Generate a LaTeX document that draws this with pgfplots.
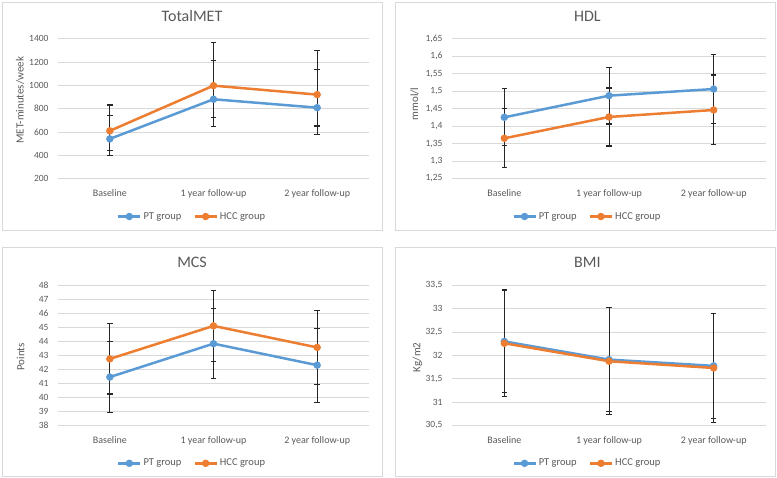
\documentclass[border=0pt]{standalone}
\usepackage{pgfplots}
\pgfplotsset{compat=1.18}
\usepackage{fontspec}
\setmainfont{Carlito}

\definecolor{ptblue}{HTML}{5B9BD5}
\definecolor{hccorange}{HTML}{ED7D31}
\definecolor{txtgray}{HTML}{595959}
\definecolor{gridgray}{HTML}{D9D9D9}

\pgfplotsset{
  panel/.style={
    scale only axis, height=139.8pt,
    xmin=-0.5, xmax=2.5,
    xtick={0,1,2},
    xticklabels={Baseline,1 year follow-up,2 year follow-up},
    axis line style={draw=none},
    major tick length=0pt,
    ymajorgrids, grid style={gridgray, line width=0.75pt},
    /pgf/number format/assume math mode=true,
    /pgf/number format/use comma,
    /pgf/number format/1000 sep={},
    yticklabel style={font=\fontsize{9.5}{11}\selectfont, text=txtgray, xshift=-6pt},
    xticklabel style={font=\fontsize{10}{12}\selectfont, text=txtgray, yshift=-8pt},
    title style={at={(axis description cs:0.431,1.12)}, anchor=center, yshift=0pt,
      font=\fontsize{16}{19}\selectfont, text=txtgray},
    ylabel style={anchor=center, font=\fontsize{11}{13}\selectfont, text=txtgray},
    legend style={at={(axis description cs:0.431,-0.272)}, anchor=center,
      draw=none, fill=none, legend columns=2,
      font=\fontsize{10.5}{12}\selectfont, text=txtgray,
      /tikz/every even column/.append style={column sep=10pt}},
    legend image code/.code={
      \draw[#1, mark repeat=2, mark phase=2] plot coordinates {(0pt,0pt) (11pt,0pt) (22pt,0pt)};},
  },
  leftpanel/.style={panel, width=311pt},
  rightpanel/.style={panel, width=314pt},
  grp/.style={color=#1, line width=2.5pt, mark=*, mark size=2.4pt,
    error bars/.cd, y dir=both, y explicit,
    error bar style={line width=0.7pt, black!85},
    error mark options={rotate=90, mark size=2.8pt, line width=1.1pt, black!85}},
}

\begin{document}
\begin{tikzpicture}
\useasboundingbox (0pt,0pt) rectangle (777pt,478pt);
\draw[gridgray, line width=0.75pt] (2pt,248pt) rectangle (382pt,476pt);
\draw[gridgray, line width=0.75pt] (395pt,248pt) rectangle (775pt,476pt);
\draw[gridgray, line width=0.75pt] (2pt,2pt) rectangle (382pt,231pt);
\draw[gridgray, line width=0.75pt] (395pt,2pt) rectangle (775pt,231pt);

% TotalMET
\begin{axis}[leftpanel, at={(58pt,299.5pt)}, anchor=south west,
  title={TotalMET}, ylabel={MET-minutes/week},
  ylabel style={at={(axis description cs:-0.122,0.56)}},
  ymin=200, ymax=1400, ytick={200,400,...,1400}]
  \addplot[grp=ptblue] coordinates {
    (0,540) += (0,197) -= (0,100)
    (1,880) += (0,329) -= (0,154)
    (2,808) += (0,324) -= (0,157)};
  \addplot[grp=hccorange] coordinates {
    (0,609) += (0,222) -= (0,212)
    (1,997) += (0,372) -= (0,351)
    (2,920) += (0,377) -= (0,340)};
  \legend{PT group, HCC group}
\end{axis}

% HDL
\begin{axis}[rightpanel, at={(452pt,299.5pt)}, anchor=south west,
  title={HDL}, ylabel={mmol/l},
  ylabel style={at={(axis description cs:-0.119,0.533)}},
  ymin=1.25, ymax=1.65, ytick={1.25,1.3,...,1.66}]
  \addplot[grp=ptblue] coordinates {
    (0,1.425) +- (0,0.0815)
    (1,1.487) +- (0,0.081)
    (2,1.506) +- (0,0.0995)};
  \addplot[grp=hccorange] coordinates {
    (0,1.365) +- (0,0.084)
    (1,1.426) +- (0,0.083)
    (2,1.446) +- (0,0.1)};
  \legend{PT group, HCC group}
\end{axis}

% MCS
\begin{axis}[leftpanel, at={(58pt,52.7pt)}, anchor=south west,
  title={MCS}, ylabel={Points},
  ylabel style={at={(axis description cs:-0.12,0.49)}},
  ymin=38, ymax=48, ytick={38,39,...,48}]
  \addplot[grp=ptblue] coordinates {
    (0,41.45) +- (0,2.52)
    (1,43.84) +- (0,2.52)
    (2,42.30) +- (0,2.65)};
  \addplot[grp=hccorange] coordinates {
    (0,42.75) +- (0,2.51)
    (1,45.11) +- (0,2.53)
    (2,43.57) +- (0,2.66)};
  \legend{PT group, HCC group}
\end{axis}

% BMI
\begin{axis}[rightpanel, at={(452pt,52.7pt)}, anchor=south west,
  title={BMI}, ylabel={Kg/m2},
  ylabel style={at={(axis description cs:-0.11,0.485)}},
  ymin=30.5, ymax=33.5, ytick={30.5,31,...,33.5}]
  \addplot[grp=ptblue] coordinates {
    (0,32.30) +- (0,1.10)
    (1,31.91) +- (0,1.11)
    (2,31.775) +- (0,1.12)};
  \addplot[grp=hccorange] coordinates {
    (0,32.26) +- (0,1.15)
    (1,31.875) +- (0,1.15)
    (2,31.73) +- (0,1.17)};
  \legend{PT group, HCC group}
\end{axis}
\end{tikzpicture}
\end{document}
